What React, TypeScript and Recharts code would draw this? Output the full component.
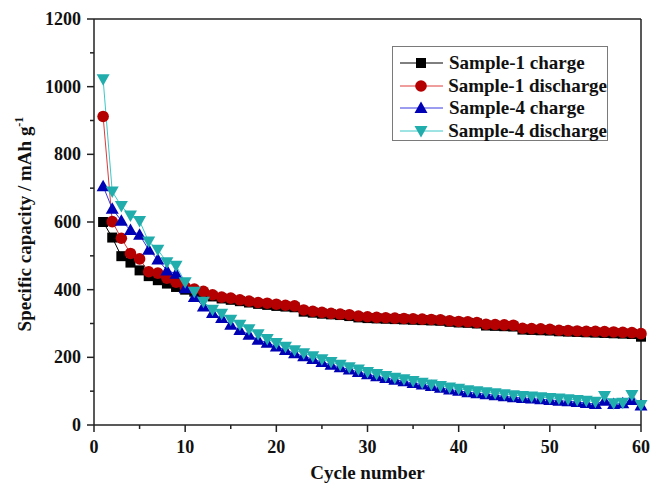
import * as React from "react";
import {
  LineChart,
  Line,
  XAxis,
  YAxis,
  Legend,
  ReferenceLine,
} from "recharts";

const cycles = [
  1, 2, 3, 4, 5, 6, 7, 8, 9, 10, 11, 12, 13, 14, 15, 16, 17, 18, 19, 20,
  21, 22, 23, 24, 25, 26, 27, 28, 29, 30, 31, 32, 33, 34, 35, 36, 37, 38, 39, 40,
  41, 42, 43, 44, 45, 46, 47, 48, 49, 50, 51, 52, 53, 54, 55, 56, 57, 58, 59, 60,
];

const s1Charge = [
  600, 554, 499, 480, 457, 440, 428, 418, 408, 400, 394, 388, 380, 374, 370, 366, 362, 358, 355, 352,
  350, 348, 335, 332, 329, 327, 325, 322, 318, 316, 315, 314, 313, 312, 311, 310, 309, 308, 305, 303,
  302, 300, 294, 293, 292, 291, 282, 281, 280, 279, 277, 276, 275, 274, 273, 272, 271, 270, 269, 261,
];

const s1Discharge = [
  912, 601, 552, 507, 491, 453, 449, 434, 422, 408, 402, 395, 385, 378, 375, 370, 366, 362, 360, 357,
  354, 352, 340, 336, 333, 330, 328, 326, 322, 320, 318, 317, 316, 315, 314, 313, 312, 311, 308, 306,
  305, 303, 298, 297, 296, 295, 286, 285, 284, 283, 280, 279, 278, 277, 277, 276, 275, 274, 273, 270,
];

const s4Charge = [
  706, 639, 604, 576, 562, 518, 489, 457, 447, 404, 378, 350, 331, 316, 296, 281, 267, 252, 243, 232,
  222, 212, 203, 195, 186, 178, 171, 164, 157, 150, 144, 139, 134, 129, 124, 120, 115, 110, 105, 101,
  97, 94, 91, 88, 85, 82, 80, 78, 76, 74, 72, 70, 68, 65, 62, 72, 62, 64, 74, 58,
];

const s4Discharge = [
  1022, 690, 647, 619, 603, 542, 518, 481, 471, 422, 394, 364, 341, 329, 311, 296, 283, 268, 254, 242,
  231, 221, 212, 203, 194, 186, 178, 171, 164, 157, 151, 145, 140, 135, 130, 125, 120, 115, 111, 107,
  103, 100, 97, 94, 91, 88, 86, 84, 82, 80, 78, 76, 74, 72, 69, 86, 64, 66, 89, 59,
];

const yTicks = [0, 100, 200, 300, 400, 500, 600, 700, 800, 900, 1000, 1100, 1200];
const xTicks = [0, 5, 10, 15, 20, 25, 30, 35, 40, 45, 50, 55, 60];

const data = cycles.map((c, i) => ({
  cycle: c,
  s1c: s1Charge[i],
  s1d: s1Discharge[i],
  s4c: s4Charge[i],
  s4d: s4Discharge[i],
}));

const FONT = '"Liberation Serif", "Times New Roman", serif';
const AXIS = "#222";

type MarkerKind = "square" | "circle" | "up" | "down";

const series = [
  { key: "s1c", name: "Sample-1 charge", line: "#000000", fill: "#000000", marker: "square" as MarkerKind },
  { key: "s1d", name: "Sample-1 discharge", line: "#e03a3a", fill: "#b40000", marker: "circle" as MarkerKind },
  { key: "s4c", name: "Sample-4 charge", line: "#3838e0", fill: "#0000b4", marker: "up" as MarkerKind },
  { key: "s4d", name: "Sample-4 discharge", line: "#3cc8c8", fill: "#22adad", marker: "down" as MarkerKind },
];

function Marker({ kind, cx, cy, fill }: { kind: MarkerKind; cx: number; cy: number; fill: string }) {
  if (kind === "square") {
    return <rect x={cx - 5} y={cy - 5} width={10} height={10} fill={fill} />;
  }
  if (kind === "circle") {
    return <circle cx={cx} cy={cy} r={5.8} fill={fill} />;
  }
  if (kind === "up") {
    return <polygon points={`${cx},${cy - 6.5} ${cx + 6.5},${cy + 5} ${cx - 6.5},${cy + 5}`} fill={fill} />;
  }
  return <polygon points={`${cx},${cy + 6.5} ${cx + 6.5},${cy - 5} ${cx - 6.5},${cy - 5}`} fill={fill} />;
}

function YTick(props: any) {
  const { x, y, payload } = props;
  const v = payload.value;
  const major = v % 200 === 0;
  const axisX = x + 13;
  return (
    <g>
      <line x1={axisX - (major ? 7 : 4)} x2={axisX} y1={y} y2={y} stroke={AXIS} strokeWidth={1.5} />
      {major && (
        <text x={x} y={y} dy="0.34em" textAnchor="end" fontFamily={FONT} fontWeight="bold" fontSize={18} fill="#111">
          {v}
        </text>
      )}
    </g>
  );
}

function XTick(props: any) {
  const { x, y, payload } = props;
  const v = payload.value;
  const major = v % 10 === 0;
  const axisY = y - 15;
  return (
    <g>
      <line x1={x} x2={x} y1={axisY} y2={axisY + (major ? 7 : 4)} stroke={AXIS} strokeWidth={1.5} />
      {major && (
        <text x={x} y={y} dy="0.72em" textAnchor="middle" fontFamily={FONT} fontWeight="bold" fontSize={18} fill="#111">
          {v}
        </text>
      )}
    </g>
  );
}

function LegendBox() {
  return (
    <div
      style={{
        boxSizing: "border-box",
        width: 216,
        height: 95,
        border: "1px solid #7a7a7a",
        background: "#fff",
        paddingTop: 5,
        paddingLeft: 6,
      }}
    >
      {series.map((s) => (
        <div key={s.key} style={{ display: "flex", alignItems: "center", height: 22.5 }}>
          <svg width={46} height={22} style={{ display: "block" }}>
            <line x1={1} x2={44} y1={11} y2={11} stroke={s.line} strokeWidth={1} />
            <Marker kind={s.marker} cx={22} cy={11} fill={s.fill} />
          </svg>
          <span
            style={{
              marginLeft: 4,
              fontFamily: FONT,
              fontWeight: "bold",
              fontSize: 19,
              lineHeight: "22px",
              color: "#111",
              whiteSpace: "nowrap",
            }}
          >
            {s.name}
          </span>
        </div>
      ))}
    </div>
  );
}

export default function App() {
  return (
    <div style={{ position: "absolute", left: 0, top: 0, width: 652, height: 483, background: "#fff" }}>
      <LineChart width={652} height={483} data={data} margin={{ top: 19, right: 11, bottom: 0, left: 0 }}>
        <XAxis
          dataKey="cycle"
          type="number"
          domain={[0, 60]}
          ticks={xTicks}
          interval={0}
          height={58}
          tickSize={7}
          tickMargin={8}
          tickLine={false}
          tick={<XTick />}
          axisLine={{ stroke: AXIS, strokeWidth: 1.5 }}
          label={{
            content: (p: any) => (
              <text
                x={p.viewBox.x + p.viewBox.width / 2}
                y={479}
                textAnchor="middle"
                fontFamily={FONT}
                fontWeight="bold"
                fontSize={19}
                fill="#111"
              >
                Cycle number
              </text>
            ),
          }}
        />
        <YAxis
          type="number"
          domain={[0, 1200]}
          ticks={yTicks}
          interval={0}
          width={94}
          tickSize={7}
          tickMargin={6}
          tickLine={false}
          tick={<YTick />}
          axisLine={{ stroke: AXIS, strokeWidth: 1.5 }}
          label={{
            content: (p: any) => {
              const cy = p.viewBox.y + 205;
              return (
                <text
                  x={31}
                  y={cy}
                  transform={`rotate(-90 31 ${cy})`}
                  textAnchor="middle"
                  fontFamily={FONT}
                  fontWeight="bold"
                  fontSize={19}
                  fill="#111"
                >
                  <tspan>Specific capacity / mAh g</tspan>
                  <tspan dy={-8} fontSize={12}>-1</tspan>
                </text>
              );
            },
          }}
        />
        <ReferenceLine y={1200} stroke={AXIS} strokeWidth={1.5} />
        <ReferenceLine x={60} stroke={AXIS} strokeWidth={1.5} />
        <Legend
          layout="horizontal"
          verticalAlign="middle"
          align="center"
          wrapperStyle={{ left: 392, top: 46, width: 216, height: 95 }}
          content={() => <LegendBox />}
        />
        {series.map((s) => (
          <Line
            key={s.key}
            dataKey={s.key}
            name={s.name}
            type="linear"
            stroke={s.line}
            strokeWidth={1}
            isAnimationActive={false}
            activeDot={false}
            dot={(p: any) => (
              <Marker key={`${s.key}-${p.index}`} kind={s.marker} cx={p.cx} cy={p.cy} fill={s.fill} />
            )}
          />
        ))}
      </LineChart>
    </div>
  );
}
